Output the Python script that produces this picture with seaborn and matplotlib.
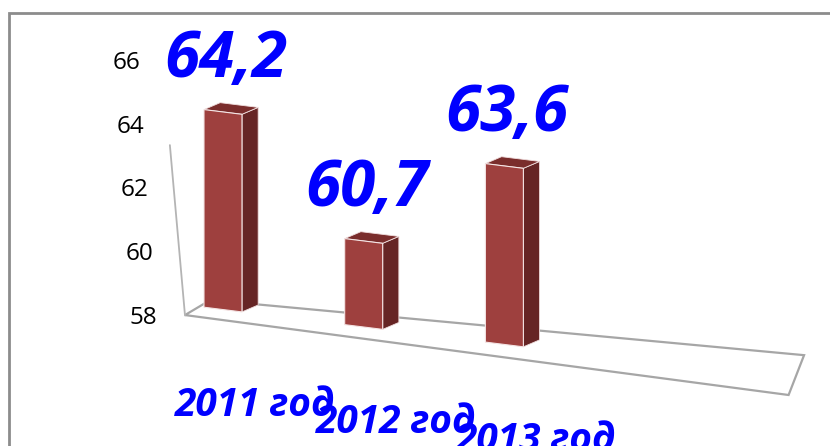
import numpy as np
import pandas as pd
import matplotlib
matplotlib.use("Agg")
import matplotlib.pyplot as plt
import matplotlib.transforms as mtransforms
from matplotlib.patches import Polygon, Rectangle
from matplotlib.lines import Line2D
import seaborn as sns

# data
years = ["2011 год", "2012 год", "2013 год"]
values = [64.2, 60.7, 63.6]
y_ticks = [58, 60, 62, 64, 66]

front_color = "#9e403e"
side_color = "#662525"
top_color = "#7a2d2c"
blue = "#0000ff"

sns.set_style("white")
plt.rcParams["font.family"] = ["Open Sans", "DejaVu Sans"]

fig = plt.figure(figsize=(8.3, 4.46), dpi=100)
W, H = 605, 255  # axes size in px
ax = fig.add_axes([185 / 830, (446 - 318) / 446, W / 830, H / 446])

df = pd.DataFrame({"year": years, "value": values})
sns.barplot(data=df, x="year", y="value", color=front_color, width=0.27,
            saturation=1, edgecolor="#f4e4e4", linewidth=0.8, ax=ax)
ax.set_xlim(-0.27, 4.03)
ax.set_ylim(y_ticks[0], y_ticks[-1])
ax.axis("off")

# fake perspective: shear everything in axes space so the floor runs downhill
k = 0.124
x0 = (291 - 185) / W
skew = mtransforms.Affine2D().translate(-x0, 0).skew(0, np.arctan(-k * W / H)).translate(x0, 0)
tr = ax.transData + ax.transAxes.inverted() + skew + ax.transAxes

base = ax.get_ylim()[0]
DX, DY = 0.115, 0.28  # depth of the boxes
bars = list(ax.patches)
for p, v in zip(bars, values):
    p.set_height(p.get_height() - base)
    p.set_y(base)
    p.set_transform(tr)
    p.set_clip_on(False)
    p.set_zorder(3)
    x, w = p.get_x(), p.get_width()
    top = base + p.get_height()
    side = [(x + w, base), (x + w, top), (x + w + DX, top + DY), (x + w + DX, base + DY)]
    lid = [(x, top), (x + w, top), (x + w + DX, top + DY), (x + DX, top + DY)]
    ax.add_patch(Polygon(side, closed=True, fc=side_color, ec="#f0dede", lw=0.6,
                         transform=tr, clip_on=False, zorder=2))
    ax.add_patch(Polygon(lid, closed=True, fc=top_color, ec="#f0dede", lw=0.6,
                         transform=tr, clip_on=False, zorder=2))
    # value label
    ax.annotate(f"{v:.1f}".replace(".", ","), xy=(x + w / 2, top), xycoords=tr,
                xytext=(2, 37), textcoords="offset points", ha="center", va="center",
                fontsize=46, fontweight="bold", fontstyle="italic", color=blue,
                annotation_clip=False, zorder=5)

# category labels along the front edge
for p, name in zip(bars, years):
    cx = p.get_x() + p.get_width() / 2
    ax.annotate(name, xy=(cx, base), xycoords=tr, xytext=(23, -69),
                textcoords="offset points", ha="center", va="center",
                fontsize=28, fontweight="bold", fontstyle="italic", color=blue,
                annotation_clip=False, zorder=5)

# floor of the 3d box
floor = [(-0.27, 57.68), (4.02, 57.52), (4.13, 58.83), (-0.09, 58.25)]
ax.add_patch(Polygon(floor, closed=True, fc="white", ec="#a6a6a6", lw=1.6,
                     transform=tr, clip_on=False, zorder=1))
# left wall edge
ax.add_line(Line2D([-0.025, 0.0], [0.678, 0.01], color="#b4b4b4", lw=1.3,
                   transform=ax.transAxes, clip_on=False))

# value axis labels, drifting right a little towards the bottom
ytr = ax.get_yaxis_transform()
for t in y_ticks:
    xr = -0.046 - (t - y_ticks[0]) / (y_ticks[-1] - y_ticks[0]) * 0.028
    ax.text(xr, t, str(t), transform=ytr, ha="right", va="center",
            fontsize=17.5, color="black", clip_on=False)

# outer chart border
fig.add_artist(Rectangle((9 / 830, -0.05), 1.2, 1 - 13 / 446 + 0.05, transform=fig.transFigure,
                         fill=False, ec="#8c8c8c", lw=2))

fig.savefig("out.png", dpi=100, facecolor="white")
